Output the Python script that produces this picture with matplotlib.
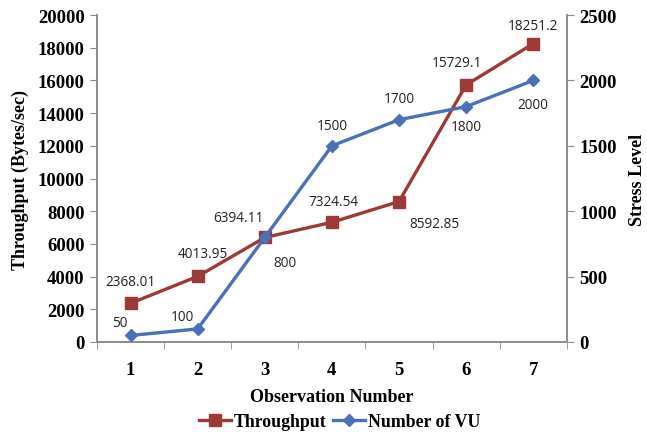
import matplotlib
matplotlib.use("Agg")
import matplotlib.pyplot as plt
from matplotlib.ticker import FixedLocator

observations = [1, 2, 3, 4, 5, 6, 7]
throughput = [2368.01, 4013.95, 6394.11, 7324.54, 8592.85, 15729.1, 18251.2]
virtual_users = [50, 100, 800, 1500, 1700, 1800, 2000]
throughput_labels = ["2368.01", "4013.95", "6394.11", "7324.54", "8592.85", "15729.1", "18251.2"]
vu_labels = ["50", "100", "800", "1500", "1700", "1800", "2000"]
left_ticks = [0, 2000, 4000, 6000, 8000, 10000, 12000, 14000, 16000, 18000, 20000]
right_ticks = [0, 500, 1000, 1500, 2000, 2500]

red = "#9b3a36"
blue = "#4a70b8"
axis_gray = "#8c8c8c"
serif = ["Liberation Serif", "DejaVu Serif"]
label_font = ["Open Sans", "DejaVu Sans"]

fig = plt.figure(figsize=(6.47, 4.35), dpi=100)
ax = fig.add_axes([0.150, 0.2115, 0.726, 0.7515])
ax2 = ax.twinx()

ax.plot(observations, throughput, color=red, lw=2.4, marker="s", ms=9,
        markerfacecolor=red, markeredgecolor=red, label="Throughput", zorder=3)
ax2.plot(observations, virtual_users, color=blue, lw=2.4, marker="D", ms=6.5,
         markerfacecolor=blue, markeredgecolor=blue, label="Number of VU", zorder=3)

ax.set_xlim(0.5, 7.5)
ax.set_ylim(0, 20000)
ax2.set_ylim(0, 2500)

ax.set_xticks(observations)
ax.set_xticklabels([str(o) for o in observations])
ax.xaxis.set_minor_locator(FixedLocator([0.5 + i for i in range(8)]))
ax.tick_params(axis="x", which="major", length=0, pad=14)
ax.tick_params(axis="x", which="minor", length=5, direction="out", color=axis_gray)
ax.set_yticks(left_ticks)
ax.tick_params(axis="y", length=5, direction="out", color=axis_gray, pad=4)
ax2.set_yticks(right_ticks)
ax2.tick_params(axis="y", length=5, direction="out", color=axis_gray, pad=4)

for a in (ax, ax2):
    for lbl in a.get_xticklabels() + a.get_yticklabels():
        lbl.set_fontfamily(serif)
        lbl.set_fontweight("bold")
        lbl.set_fontsize(13.5)
    a.spines["top"].set_visible(False)
    for s in ("left", "right", "bottom"):
        a.spines[s].set_color(axis_gray)
        a.spines[s].set_linewidth(1.2)

ax.set_xlabel("Observation Number", fontfamily=serif, fontweight="bold",
              fontsize=13, labelpad=7)
ax.set_ylabel("Throughput (Bytes/sec)", fontfamily=serif, fontweight="bold",
              fontsize=13, labelpad=6)
ax2.set_ylabel("Stress Level", fontfamily=serif, fontweight="bold",
               fontsize=13, labelpad=9)

# value labels: offsets in pixels relative to each marker
tp_offsets = [(0, 22), (5, 23), (-26, 20), (2, 21), (35, -22), (-9, 22), (0, 18)]
vu_offsets = [(-11, 13), (-15, 12), (20, -25), (0, 20), (0, 21), (0, -20), (0, -24)]
for x, y, txt, off in zip(observations, throughput, throughput_labels, tp_offsets):
    ax.annotate(txt, (x, y), xytext=off, textcoords="offset pixels",
                ha="center", va="center", fontsize=9.8, fontfamily=label_font,
                color="#222222")
for x, y, txt, off in zip(observations, virtual_users, vu_labels, vu_offsets):
    ax2.annotate(txt, (x, y), xytext=off, textcoords="offset pixels",
                 ha="center", va="center", fontsize=9.8, fontfamily=label_font,
                 color="#222222")

h1, l1 = ax.get_legend_handles_labels()
h2, l2 = ax2.get_legend_handles_labels()
fig.legend(h1 + h2, l1 + l2, loc="center", bbox_to_anchor=(0.525, 0.028),
           ncol=2, frameon=False, handlelength=1.8, handletextpad=0.15,
           columnspacing=0.4,
           prop={"family": serif, "weight": "bold", "size": 12.8})

fig.savefig("out.png", dpi=100)
